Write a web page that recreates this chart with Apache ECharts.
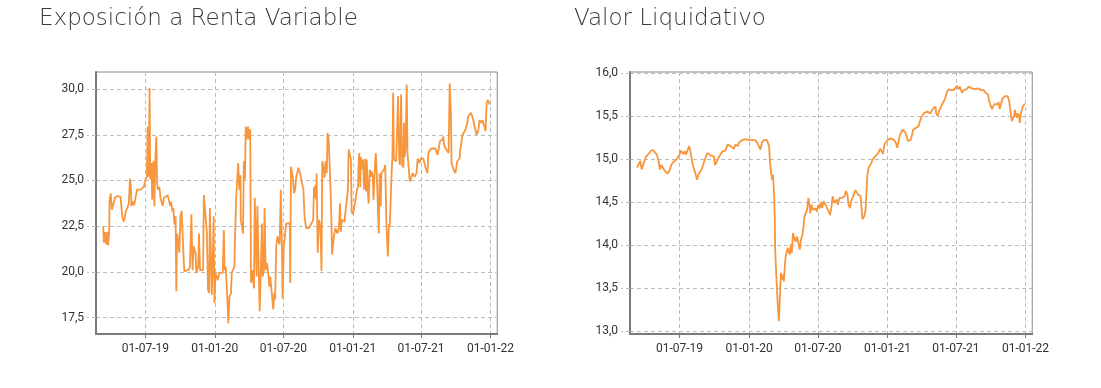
<!DOCTYPE html>
<html><head><meta charset="utf-8">
<script src="https://cdn.jsdelivr.net/npm/echarts@6/dist/echarts.min.js"></script>
<style>
html,body{margin:0;padding:0;background:#fff;}
body{width:1101px;height:388px;position:relative;overflow:hidden;}
#c1{position:absolute;left:0;top:0;width:517px;height:388px;}
#c2{position:absolute;left:535px;top:0;width:517px;height:388px;}
</style>
</head><body>
<div id="c1"></div><div id="c2"></div>
<script>
// ---------- DATA ----------
const titleExp = 'Exposición a Renta Variable';
const titleNav = 'Valor Liquidativo';
const xTickDates = ['2019-07-01','2020-01-01','2020-07-01','2021-01-01','2021-07-01','2022-01-01'];
const xRange = ['2019-02-20','2022-01-19'];
const expTicks = [17.5,20,22.5,25,27.5,30];
const expRange = [16.61,30.93];
const navTicks = [13,13.5,14,14.5,15,15.5,16];
const navRange = [12.97,16.01];

const expDates = [
'2019-03-11','2019-03-13','2019-03-16','2019-03-19','2019-03-22','2019-03-24','2019-03-27','2019-03-28','2019-03-31','2019-04-03',
'2019-04-07','2019-04-12','2019-04-18','2019-04-26','2019-04-29','2019-05-01','2019-05-05','2019-05-10','2019-05-14','2019-05-18',
'2019-05-21','2019-05-24','2019-05-25','2019-05-29','2019-06-01','2019-06-05','2019-06-09','2019-06-14','2019-06-18','2019-06-22',
'2019-06-27','2019-07-01','2019-07-05','2019-07-07','2019-07-10','2019-07-12','2019-07-14','2019-07-17','2019-07-19','2019-07-22',
'2019-07-25','2019-07-27','2019-07-30','2019-08-01','2019-08-03','2019-08-07','2019-08-10','2019-08-14','2019-08-16','2019-08-19',
'2019-08-24','2019-08-29','2019-09-02','2019-09-05','2019-09-07','2019-09-11','2019-09-13','2019-09-16','2019-09-19','2019-09-21',
'2019-09-23','2019-09-26','2019-09-29','2019-10-02','2019-10-05','2019-10-09','2019-10-12','2019-10-17','2019-10-23','2019-10-27',
'2019-10-31','2019-11-03','2019-11-06','2019-11-11','2019-11-13','2019-11-18','2019-11-20','2019-11-23','2019-11-26','2019-12-01',
'2019-12-03','2019-12-08','2019-12-11','2019-12-14','2019-12-17','2019-12-19','2019-12-22','2019-12-24','2019-12-27','2019-12-29',
'2019-12-31','2020-01-03','2020-01-06','2020-01-09','2020-01-13','2020-01-18','2020-01-22','2020-01-25','2020-01-27','2020-01-30',
'2020-02-03','2020-02-06','2020-02-09','2020-02-13','2020-02-15','2020-02-19','2020-02-22','2020-02-24','2020-02-27','2020-03-02',
'2020-03-03','2020-03-06','2020-03-09','2020-03-10','2020-03-14','2020-03-16','2020-03-18','2020-03-21','2020-03-23','2020-03-26',
'2020-03-29','2020-04-01','2020-04-04','2020-04-06','2020-04-09','2020-04-13','2020-04-14','2020-04-16','2020-04-20','2020-04-21',
'2020-04-23','2020-04-27','2020-04-29','2020-05-02','2020-05-05','2020-05-07','2020-05-10','2020-05-12','2020-05-15','2020-05-18',
'2020-05-21','2020-05-25','2020-05-27','2020-05-30','2020-06-01','2020-06-04','2020-06-07','2020-06-09','2020-06-12','2020-06-15',
'2020-06-18','2020-06-21','2020-06-24','2020-06-27','2020-06-29','2020-07-02','2020-07-05','2020-07-08','2020-07-12','2020-07-18',
'2020-07-19','2020-07-21','2020-07-24','2020-07-26','2020-07-29','2020-08-01','2020-08-04','2020-08-08','2020-08-10','2020-08-14',
'2020-08-16','2020-08-21','2020-08-23','2020-08-26','2020-08-30','2020-09-03','2020-09-07','2020-09-12','2020-09-14','2020-09-18',
'2020-09-20','2020-09-22','2020-09-24','2020-09-26','2020-09-27','2020-09-30','2020-10-03','2020-10-07','2020-10-10','2020-10-12',
'2020-10-15','2020-10-18','2020-10-21','2020-10-24','2020-10-26','2020-10-29','2020-10-31','2020-11-03','2020-11-05','2020-11-07',
'2020-11-10','2020-11-13','2020-11-16','2020-11-21','2020-11-25','2020-11-28','2020-11-30','2020-12-03','2020-12-06','2020-12-10',
'2020-12-12','2020-12-15','2020-12-19','2020-12-21','2020-12-25','2020-12-27','2020-12-29','2021-01-01','2021-01-04','2021-01-08',
'2021-01-12','2021-01-15','2021-01-16','2021-01-18','2021-01-21','2021-01-22','2021-01-25','2021-01-28','2021-01-31','2021-02-03',
'2021-02-05','2021-02-07','2021-02-10','2021-02-12','2021-02-15','2021-02-18','2021-02-20','2021-02-23','2021-02-25','2021-02-28',
'2021-03-03','2021-03-05','2021-03-08','2021-03-11','2021-03-13','2021-03-16','2021-03-18','2021-03-22','2021-03-25','2021-03-28',
'2021-03-31','2021-04-02','2021-04-04','2021-04-07','2021-04-09','2021-04-12','2021-04-15','2021-04-16','2021-04-18','2021-04-20',
'2021-04-23','2021-04-26','2021-04-29','2021-05-01','2021-05-04','2021-05-06','2021-05-09','2021-05-12','2021-05-13','2021-05-15',
'2021-05-17','2021-05-19','2021-05-21','2021-05-24','2021-05-26','2021-05-29','2021-06-01','2021-06-03','2021-06-06','2021-06-09',
'2021-06-11','2021-06-14','2021-06-16','2021-06-19','2021-06-22','2021-06-24','2021-06-27','2021-06-30','2021-07-02','2021-07-05',
'2021-07-07','2021-07-10','2021-07-13','2021-07-15','2021-07-18','2021-07-20','2021-07-22','2021-07-25','2021-07-29','2021-08-03',
'2021-08-08','2021-08-11','2021-08-14','2021-08-18','2021-08-20','2021-08-24','2021-08-27','2021-08-29','2021-08-31','2021-09-04',
'2021-09-08','2021-09-12','2021-09-14','2021-09-15','2021-09-18','2021-09-20','2021-09-22','2021-09-25','2021-09-28','2021-09-30',
'2021-10-03','2021-10-05','2021-10-08','2021-10-11','2021-10-13','2021-10-17','2021-10-19','2021-10-22','2021-10-26','2021-10-29',
'2021-11-01','2021-11-03','2021-11-07','2021-11-10','2021-11-14','2021-11-17','2021-11-20','2021-11-22','2021-11-25','2021-11-28',
'2021-11-30','2021-12-03','2021-12-06','2021-12-08','2021-12-11','2021-12-13','2021-12-16','2021-12-19','2021-12-20','2021-12-22',
'2021-12-25','2021-12-27','2021-12-30'
];
const expValues = [
22.5,21.6,22.2,21.5,22.2,21.45,22.2,23.9,24.3,23.4,
23.3,24.1,24.15,24.1,24.05,23.0,22.75,23.3,23.5,23.75,
25.1,24.5,23.6,23.85,23.65,23.6,24.5,24.6,24.5,24.6,
24.65,25.05,25.2,27.95,25.2,30.05,25.05,25.95,23.95,26.05,
23.6,26.05,27.4,24.85,24.5,24.65,24.05,24.15,23.6,24.05,
23.95,24.2,24.3,23.6,23.85,23.3,23.5,22.6,23.05,18.95,
22.1,21.75,21.05,23.05,23.35,23.4,20.05,19.95,20.1,20.3,
23.15,20.1,21.4,21.05,19.95,20.3,22.1,20.1,20.05,20.1,
24.2,24.15,22.2,19.0,18.85,23.5,20.65,18.75,21.05,23.05,
18.3,19.95,19.75,19.55,19.95,20.05,19.95,22.3,20.1,20.3,
18.65,17.2,18.65,18.85,19.95,20.05,20.3,22.1,24.15,24.2,
25.95,24.5,25.3,22.85,22.75,22.1,26.05,25.05,27.95,27.25,
27.95,27.25,27.8,19.4,20.1,20.1,19.1,24.05,23.95,19.75,
23.6,23.6,17.85,19.95,22.65,19.75,20.1,23.5,20.1,20.5,
20.1,19.2,19.75,19.75,18.65,17.95,18.85,18.5,21.4,21.95,
21.95,21.5,24.5,21.4,18.55,21.4,21.95,22.65,22.65,22.65,
19.4,25.75,25.4,25.2,24.3,24.5,25.2,25.2,25.7,25.4,
25.2,25.15,24.5,23.05,22.4,22.3,22.4,22.6,22.5,22.85,
24.65,24.05,24.75,23.95,25.4,21.05,22.85,22.5,20.05,26.05,
25.75,25.15,26.05,25.4,27.6,27.25,27.3,24.5,23.05,20.95,
21.6,22.1,22.4,22.1,22.4,23.75,22.2,22.85,22.85,22.75,
23.2,23.15,24.5,26.7,26.75,26.15,23.3,23.15,23.4,23.5,
24.5,24.65,25.75,26.5,24.65,26.3,25.6,26.15,24.5,26.2,
24.4,26.15,24.3,23.75,25.6,25.2,25.5,25.2,23.95,25.5,
26.5,25.6,25.6,22.1,25.4,23.6,25.4,25.5,25.6,25.85,
22.65,22.6,20.85,22.65,22.5,24.3,25.95,26.15,29.8,26.15,
26.15,26.05,25.95,29.6,26.15,25.85,29.7,25.75,26.85,25.7,
28.15,26.3,26.85,30.25,26.5,26.4,24.95,25.05,24.85,25.4,
25.5,25.2,25.2,25.4,26.2,26.3,25.95,26.2,26.2,26.15,
26.2,26.15,25.7,25.6,25.4,26.4,26.6,26.7,26.75,26.75,
26.75,26.85,26.4,26.4,27.15,27.25,27.25,27.4,26.95,26.75,
26.7,26.5,29.05,30.3,28.7,25.95,25.95,25.6,25.7,25.4,
25.3,26.05,26.15,26.2,26.7,26.75,27.5,27.6,27.75,27.75,
28.15,28.5,28.6,28.7,28.5,28.25,27.95,27.85,27.5,27.4,
27.75,28.3,28.25,28.15,28.3,28.15,27.95,27.7,28.3,29.25,
29.4,29.3,29.15
];

const navDates = [
'2019-03-11','2019-03-16','2019-03-19','2019-03-23','2019-03-27','2019-03-31','2019-04-04','2019-04-08','2019-04-12','2019-04-17',
'2019-04-23','2019-04-28','2019-05-02','2019-05-07','2019-05-10','2019-05-14','2019-05-17','2019-05-22','2019-05-26','2019-05-30',
'2019-06-05','2019-06-09','2019-06-14','2019-06-18','2019-06-22','2019-06-27','2019-07-01','2019-07-04','2019-07-08','2019-07-11',
'2019-07-15','2019-07-18','2019-07-23','2019-07-26','2019-07-29','2019-08-01','2019-08-05','2019-08-09','2019-08-14','2019-08-16',
'2019-08-20','2019-08-24','2019-08-28','2019-08-31','2019-09-04','2019-09-09','2019-09-13','2019-09-18','2019-09-22','2019-09-26',
'2019-09-30','2019-10-03','2019-10-07','2019-10-10','2019-10-14','2019-10-18','2019-10-23','2019-10-27','2019-10-31','2019-11-05',
'2019-11-09','2019-11-13','2019-11-18','2019-11-22','2019-11-26','2019-12-02','2019-12-05','2019-12-10','2019-12-14','2019-12-18',
'2019-12-23','2019-12-27','2019-12-31','2020-01-05','2020-01-09','2020-01-14','2020-01-18','2020-01-22','2020-01-27','2020-01-31',
'2020-02-04','2020-02-09','2020-02-13','2020-02-17','2020-02-20','2020-02-23','2020-02-25','2020-02-28','2020-03-02','2020-03-04',
'2020-03-07','2020-03-09','2020-03-10','2020-03-13','2020-03-15','2020-03-17','2020-03-20','2020-03-22','2020-03-25','2020-03-28',
'2020-03-30','2020-04-02','2020-04-05','2020-04-07','2020-04-10','2020-04-12','2020-04-15','2020-04-18','2020-04-20','2020-04-23',
'2020-04-26','2020-04-30','2020-05-03','2020-05-07','2020-05-10','2020-05-14','2020-05-17','2020-05-21','2020-05-24','2020-05-26',
'2020-05-30','2020-06-02','2020-06-06','2020-06-08','2020-06-11','2020-06-14','2020-06-18','2020-06-21','2020-06-25','2020-06-28',
'2020-07-02','2020-07-05','2020-07-09','2020-07-12','2020-07-16','2020-07-19','2020-07-23','2020-07-26','2020-07-30','2020-08-02',
'2020-08-06','2020-08-09','2020-08-13','2020-08-16','2020-08-20','2020-08-23','2020-08-27','2020-08-30','2020-09-03','2020-09-06',
'2020-09-10','2020-09-13','2020-09-17','2020-09-20','2020-09-24','2020-09-27','2020-10-01','2020-10-04','2020-10-08','2020-10-11',
'2020-10-15','2020-10-18','2020-10-22','2020-10-24','2020-10-27','2020-10-29','2020-11-01','2020-11-04','2020-11-06','2020-11-09',
'2020-11-12','2020-11-15','2020-11-19','2020-11-22','2020-11-26','2020-11-29','2020-12-03','2020-12-06','2020-12-10','2020-12-13',
'2020-12-17','2020-12-20','2020-12-24','2020-12-28','2021-01-01','2021-01-06','2021-01-10','2021-01-14','2021-01-19','2021-01-23',
'2021-01-27','2021-01-31','2021-02-03','2021-02-07','2021-02-10','2021-02-14','2021-02-17','2021-02-21','2021-02-24','2021-02-28',
'2021-03-03','2021-03-07','2021-03-10','2021-03-14','2021-03-17','2021-03-21','2021-03-24','2021-03-28','2021-03-31','2021-04-04',
'2021-04-07','2021-04-12','2021-04-16','2021-04-20','2021-04-25','2021-04-29','2021-05-03','2021-05-08','2021-05-10','2021-05-14',
'2021-05-17','2021-05-21','2021-05-25','2021-05-30','2021-06-03','2021-06-07','2021-06-11','2021-06-14','2021-06-18','2021-06-21',
'2021-06-25','2021-06-29','2021-07-04','2021-07-08','2021-07-12','2021-07-17','2021-07-21','2021-07-25','2021-07-30','2021-08-03',
'2021-08-08','2021-08-12','2021-08-16','2021-08-21','2021-08-25','2021-08-29','2021-09-03','2021-09-06','2021-09-10','2021-09-13',
'2021-09-17','2021-09-20','2021-09-24','2021-09-27','2021-10-01','2021-10-04','2021-10-08','2021-10-11','2021-10-15','2021-10-18',
'2021-10-22','2021-10-25','2021-10-29','2021-11-01','2021-11-05','2021-11-08','2021-11-12','2021-11-15','2021-11-19','2021-11-21',
'2021-11-24','2021-11-26','2021-11-29','2021-12-02','2021-12-04','2021-12-07','2021-12-09','2021-12-12','2021-12-15','2021-12-17',
'2021-12-20','2021-12-23','2021-12-25','2021-12-28','2021-12-30'
];
const navValues = [
14.90,14.95,14.98,14.88,14.90,14.99,15.03,15.02,15.07,15.10,
15.10,15.10,15.05,14.97,14.88,14.93,14.91,14.87,14.88,14.83,
14.87,14.93,14.96,14.95,14.99,15.00,15.05,15.10,15.08,15.06,
15.09,15.05,15.11,15.15,15.11,15.03,14.93,14.88,14.80,14.76,
14.82,14.84,14.88,14.91,14.97,15.03,15.07,15.05,15.04,15.02,
15.03,14.93,14.92,14.99,15.03,15.06,15.09,15.11,15.10,15.17,
15.19,15.15,15.17,15.12,15.17,15.15,15.19,15.21,15.22,15.22,
15.23,15.23,15.22,15.23,15.22,15.22,15.22,15.19,15.15,15.11,
15.19,15.22,15.22,15.22,15.20,15.15,14.99,14.84,14.76,14.82,
14.61,14.30,13.95,13.64,13.66,13.29,13.12,13.10,13.68,13.60,
13.66,13.58,13.79,13.87,13.89,13.97,13.99,13.89,14.01,13.91,
14.14,14.12,14.04,14.10,14.08,13.95,14.06,14.12,14.22,14.32,
14.30,14.41,14.55,14.49,14.37,14.47,14.41,14.39,14.43,14.39,
14.47,14.43,14.49,14.43,14.51,14.49,14.45,14.43,14.39,14.35,
14.45,14.57,14.49,14.47,14.53,14.47,14.55,14.53,14.55,14.57,
14.57,14.63,14.59,14.47,14.43,14.51,14.53,14.59,14.64,14.63,
14.59,14.57,14.57,14.45,14.30,14.28,14.34,14.41,14.57,14.82,
14.90,14.92,14.95,14.99,14.97,15.03,15.05,15.06,15.09,15.12,
15.11,15.06,15.17,15.19,15.22,15.21,15.24,15.26,15.22,15.19,
15.13,15.22,15.28,15.30,15.34,15.35,15.31,15.26,15.21,15.22,
15.22,15.28,15.34,15.35,15.36,15.34,15.38,15.44,15.48,15.50,
15.53,15.55,15.55,15.57,15.53,15.57,15.59,15.61,15.53,15.50,
15.55,15.57,15.63,15.67,15.71,15.77,15.81,15.81,15.80,15.81,
15.80,15.82,15.85,15.81,15.84,15.77,15.80,15.82,15.81,15.84,
15.82,15.82,15.81,15.81,15.82,15.82,15.84,15.80,15.80,15.80,
15.77,15.77,15.75,15.67,15.62,15.58,15.60,15.64,15.65,15.63,
15.66,15.58,15.65,15.70,15.72,15.73,15.71,15.73,15.67,15.59,
15.50,15.44,15.42,15.50,15.57,15.55,15.48,15.53,15.50,15.42,
15.53,15.55,15.61,15.62,15.64
];

// ---------- CHART BUILDER ----------
const LINE = '#F7963D';
function ts(s){ const p=s.split('-'); return new Date(+p[0], +p[1]-1, +p[2]).getTime(); }
function pad(n){ return (n<10?'0':'')+n; }
function fmtDate(v){ const d=new Date(v); return pad(d.getDate())+'-'+pad(d.getMonth()+1)+'-'+String(d.getFullYear()).slice(2); }
function fmtNum(v){ return Number(v).toFixed(1).replace('.', ','); }

function build(el, title, dates, values, yTicks, yRange, gridLeft){
  const chart = echarts.init(document.getElementById(el), null, {renderer:'canvas'});
  const xt = xTickDates.map(ts);
  chart.setOption({
    animation:false,
    backgroundColor:'#fff',
    title:{
      text:title, left:39, top:8, padding:[0,0,0,0],
      textStyle:{fontFamily:'DejaVu Sans', fontWeight:200, fontSize:23, color:'#3a3a3a'}
    },
    grid:{left:gridLeft, right:16, top:72, bottom:54, show:true, borderColor:'#8a8a8a', borderWidth:1},
    xAxis:{
      type:'value', min:ts(xRange[0]), max:ts(xRange[1]), scale:true,
      axisLine:{show:true, onZero:false, lineStyle:{color:'#7a7a7a', width:2}},
      axisTick:{show:true, length:4, customValues:xt, lineStyle:{color:'#7a7a7a', width:1}},
      axisLabel:{customValues:xt, formatter:fmtDate, color:'#333', fontSize:12, fontFamily:'Roboto', margin:9},
      splitLine:{show:true, lineStyle:{color:'#bdbdbd', type:[4,3], width:1}}
    },
    yAxis:{
      type:'value', min:yRange[0], max:yRange[1], scale:true,
      axisLine:{show:true, lineStyle:{color:'#7a7a7a', width:2}},
      axisTick:{show:true, length:9, customValues:yTicks, lineStyle:{color:'#bdbdbd', type:[4,3], width:1}},
      axisLabel:{customValues:yTicks, formatter:fmtNum, color:'#333', fontSize:12, fontFamily:'Roboto', margin:12},
      splitLine:{show:true, lineStyle:{color:'#bdbdbd', type:[4,3], width:1}}
    },
    series:[{
      type:'line', showSymbol:false, symbol:'none',
      data: dates.map((d,i)=>[ts(d), values[i]]),
      lineStyle:{color:LINE, width:1.8},
      itemStyle:{color:LINE}
    }]
  });
}
build('c1', titleExp, expDates, expValues, expTicks, expRange, 96);
build('c2', titleNav, navDates, navValues, navTicks, navRange, 95);
</script>
</body></html>
